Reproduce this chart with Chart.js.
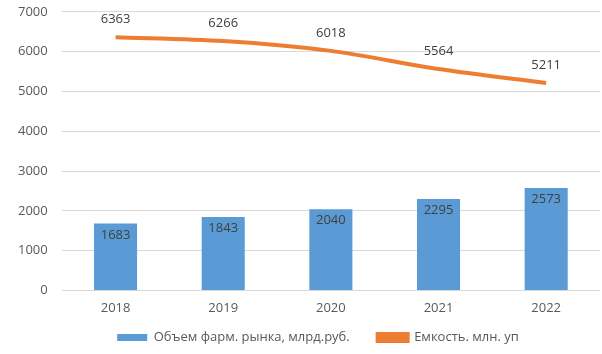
<!DOCTYPE html>
<html>
<head>
<meta charset="utf-8">
<script src="https://cdn.jsdelivr.net/npm/chart.js@4"></script>
<style>
  html, body { margin: 0; padding: 0; background: #fff; overflow: hidden; }
  #wrap { width: 602px; height: 364px; margin-top: -10px; }
</style>
</head>
<body>
<div id="wrap"><canvas id="grafico"></canvas></div>
<script>
// Данные
const anos = ['2018', '2019', '2020', '2021', '2022'];
const volumenMercado = [1683, 1843, 2040, 2295, 2573];
const capacidad = [6363, 6266, 6018, 5564, 5211];
const ticksY = [0, 1000, 2000, 3000, 4000, 5000, 6000, 7000];

const fuente = "'Open Sans', 'Liberation Sans', sans-serif";

// подписи значений
const etiquetas = {
  id: 'etiquetas',
  afterDatasetsDraw(chart) {
    const c = chart.ctx;
    c.save();
    c.font = '13px ' + fuente;
    c.fillStyle = '#404040';
    c.textAlign = 'center';
    chart.data.datasets.forEach((ds, i) => {
      const meta = chart.getDatasetMeta(i);
      meta.data.forEach((el, j) => {
        const v = ds.data[j];
        if (ds.type === 'bar') {
          c.textBaseline = 'top';
          c.fillText(v, el.x, el.y + 5);
        } else {
          c.textBaseline = 'bottom';
          c.fillText(v, el.x, el.y - 11);
        }
      });
    });
    c.restore();
  }
};

// легенда немного правее и ниже, как в оригинале
const sdvigLegendy = {
  id: 'sdvigLegendy',
  afterLayout(chart) {
    const lg = chart.legend;
    if (!lg) return;
    lg.left += 16; lg.right += 16;
    lg.top += 2; lg.bottom += 2;
  }
};

const ctx = document.getElementById('grafico').getContext('2d');
new Chart(ctx, {
  data: {
    labels: anos,
    datasets: [
      {
        type: 'line',
        label: 'Емкость. млн. уп',
        data: capacidad,
        borderColor: '#ED7D31',
        backgroundColor: '#ED7D31',
        borderWidth: 4,
        pointRadius: 0,
        tension: 0.3,
        order: 0
      },
      {
        type: 'bar',
        label: 'Объем фарм. рынка, млрд.руб.',
        data: volumenMercado,
        backgroundColor: '#5B9BD5',
        barPercentage: 0.4,
        categoryPercentage: 1,
        order: 1
      }
    ]
  },
  options: {
    responsive: true,
    maintainAspectRatio: false,
    animation: false,
    layout: { padding: { top: 0, right: 2, left: 4, bottom: 2 } },
    plugins: {
      legend: {
        position: 'bottom',
        reverse: true,
        labels: {
          boxWidth: 30,
          boxHeight: 7,
          color: '#595959',
          font: { family: fuente, size: 13 },
          padding: 11,
          // чуть больше места между элементами легенды
          generateLabels: (chart) => {
            const items = Chart.defaults.plugins.legend.labels.generateLabels(chart);
            items.forEach(it => { if (it.datasetIndex === 1) it.text = it.text + '     '; });
            return items;
          }
        }
      },
      tooltip: { enabled: false }
    },
    scales: {
      x: {
        grid: { display: false },
        border: { display: false },
        ticks: { color: '#595959', font: { family: fuente, size: 13 }, padding: 2 }
      },
      y: {
        min: 0,
        max: 7000,
        afterBuildTicks: (axis) => { axis.ticks = ticksY.map(v => ({ value: v })); },
        grid: { color: '#D9D9D9', lineWidth: 1, drawTicks: false },
        border: { display: false },
        ticks: {
          color: '#595959',
          font: { family: fuente, size: 13 },
          padding: 14,
          callback: (v) => String(v)
        }
      }
    }
  },
  plugins: [etiquetas, sdvigLegendy]
});
</script>
</body>
</html>
